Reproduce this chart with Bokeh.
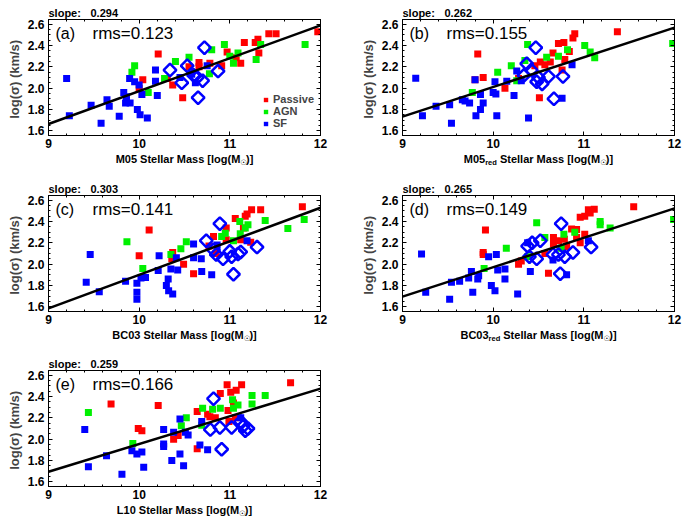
import numpy as np
from bokeh.plotting import figure
from bokeh.models import (Label, Legend, LegendItem, LinearAxis,
                          SingleIntervalTicker, Range1d, PrintfTickFormatter)
from bokeh.layouts import column, row
from bokeh.embed import file_html
from bokeh.resources import INLINE

# ---------------- data ----------------
fit_x = [9.0, 12.0]

# panel (a)  M05
a_red_x = [10.00, 10.04, 10.21, 10.31, 10.37, 10.48, 10.55, 10.66, 10.66, 10.78, 10.91, 10.97, 11.07, 11.12, 11.16, 11.28, 11.31, 11.32, 11.43, 11.51, 11.97]
a_red_y = [2.00, 2.08, 2.32, 2.09, 2.03, 1.91, 2.20, 2.24, 2.20, 2.235, 2.21, 2.34, 2.285, 2.235, 2.43, 2.43, 2.46, 2.33, 2.51, 2.51, 2.53]
a_grn_x = [9.92, 9.95, 10.10, 10.28, 10.40, 10.55, 10.775, 10.80, 10.94, 11.00, 11.04, 11.09, 11.29, 11.34, 11.83]
a_grn_y = [2.15, 2.21, 1.96, 2.09, 2.25, 2.29, 2.135, 2.36, 2.41, 2.30, 2.235, 2.33, 2.27, 2.41, 2.41]
a_blu_x = [9.20, 9.23, 9.47, 9.58, 9.645, 9.67, 9.78, 9.83, 9.85, 9.86, 9.895, 9.90, 9.95, 9.98, 10.00, 10.01, 10.03, 10.09, 10.18, 10.18, 10.20, 10.45, 10.58, 10.62, 10.75]
a_blu_y = [2.09, 1.74, 1.84, 1.67, 1.89, 1.83, 1.735, 1.96, 1.86, 1.92, 2.09, 1.86, 2.06, 1.80, 2.03, 1.75, 1.94, 1.72, 2.17, 2.065, 1.93, 2.10, 2.13, 2.05, 2.21]
a_dia_x = [10.34, 10.47, 10.53, 10.60, 10.64, 10.70, 10.72, 10.65, 10.87]
a_dia_y = [2.17, 2.05, 2.21, 2.12, 2.10, 2.07, 2.38, 1.91, 2.16]
a_fit_y = [1.663, 2.59]
a_slope, a_rms = "0.294", "rms=0.123"

# panel (b)  M05_red
b_red_x = [9.80, 9.83, 9.89, 10.13, 10.28, 10.46, 10.51, 10.52, 10.57, 10.63, 10.66, 10.72, 10.76, 10.78, 10.79, 10.84, 10.88, 10.90, 11.37]
b_red_y = [2.08, 2.32, 2.10, 2.00, 2.09, 2.21, 1.91, 2.245, 2.22, 2.245, 2.33, 2.42, 2.17, 2.43, 2.27, 2.345, 2.47, 2.51, 2.53]
b_grn_x = [9.77, 10.05, 10.20, 10.26, 10.35, 10.38, 10.59, 10.72, 10.82, 11.01, 11.07, 11.12, 11.98]
b_grn_y = [1.96, 2.15, 2.21, 2.07, 2.26, 2.41, 2.29, 2.30, 2.36, 2.40, 2.34, 2.285, 2.42]
b_blu_x = [9.146, 9.22, 9.37, 9.52, 9.54, 9.66, 9.69, 9.74, 9.80, 9.81, 9.86, 9.86, 9.89, 10.00, 10.02, 10.03, 10.04, 10.15, 10.23, 10.26, 10.31, 10.39, 10.76, 10.87]
b_blu_y = [2.094, 1.74, 1.83, 1.845, 1.67, 1.89, 1.88, 1.86, 2.08, 1.74, 1.94, 1.80, 1.86, 1.96, 2.06, 1.945, 1.74, 2.065, 1.93, 2.16, 2.07, 1.72, 1.905, 2.22]
b_dia_x = [10.34, 10.37, 10.42, 10.47, 10.48, 10.50, 10.54, 10.61, 10.67, 10.77]
b_dia_y = [2.12, 2.23, 2.17, 2.38, 2.06, 2.10, 2.04, 2.11, 1.90, 2.11]
b_fit_y = [1.732, 2.569]
b_slope, b_rms = "0.262", "rms=0.155"

# panel (c)  BC03
c_red_x = [10.00, 10.11, 10.36, 10.37, 10.49, 10.60, 10.77, 10.82, 10.85, 10.96, 10.96, 11.06, 11.12, 11.15, 11.17, 11.19, 11.23, 11.24, 11.34, 11.80]
c_red_y = [2.08, 2.32, 2.05, 2.11, 2.00, 1.91, 2.17, 2.26, 2.10, 2.34, 2.23, 2.43, 2.23, 2.34, 2.45, 2.47, 2.205, 2.51, 2.51, 2.54]
c_grn_x = [9.865, 10.04, 10.35, 10.46, 10.52, 10.91, 10.95, 11.04, 11.11, 11.115, 11.17, 11.20, 11.39, 11.64, 11.82]
c_grn_y = [2.21, 1.96, 2.09, 2.145, 2.21, 2.26, 2.29, 2.22, 2.40, 2.285, 2.34, 2.37, 2.41, 2.335, 2.42]
c_blu_x = [9.416, 9.46, 9.56, 9.85, 9.975, 9.975, 9.975, 10.02, 10.07, 10.21, 10.22, 10.30, 10.32, 10.325, 10.35, 10.37, 10.41, 10.425, 10.60, 10.60, 10.685, 10.69, 10.80, 10.86, 11.19]
c_blu_y = [1.83, 2.09, 1.74, 1.84, 1.82, 1.735, 1.67, 1.87, 1.875, 1.94, 2.08, 1.80, 1.86, 1.75, 1.955, 1.72, 2.06, 1.945, 2.19, 2.06, 2.05, 1.93, 1.90, 2.18, 2.22]
c_dia_x = [10.74, 10.82, 10.85, 10.89, 10.925, 11.00, 11.02, 11.04, 11.09, 11.12, 11.30]
c_dia_y = [2.22, 2.135, 2.09, 2.38, 2.05, 2.12, 2.07, 1.905, 2.095, 2.115, 2.16]
c_fit_y = [1.584, 2.53]
c_slope, c_rms = "0.303", "rms=0.141"

# panel (d)  BC03_red
d_red_x = [9.89, 9.89, 9.915, 10.28, 10.31, 10.57, 10.61, 10.665, 10.665, 10.72, 10.785, 10.81, 10.865, 10.92, 10.92, 10.96, 10.96, 11.01, 11.01, 11.05, 11.07, 11.115, 11.55]
d_red_y = [2.09, 2.11, 2.32, 2.00, 2.03, 2.10, 1.915, 2.25, 2.19, 2.22, 2.235, 2.165, 2.33, 2.325, 2.25, 2.20, 2.44, 2.28, 2.45, 2.51, 2.48, 2.515, 2.54]
d_grn_x = [9.90, 10.145, 10.38, 10.48, 10.57, 10.75, 10.78, 10.90, 11.18, 11.18, 11.29, 11.99]
d_grn_y = [1.96, 2.15, 2.07, 2.39, 2.25, 2.15, 2.28, 2.30, 2.40, 2.37, 2.34, 2.42]
d_blu_x = [9.21, 9.256, 9.52, 9.54, 9.63, 9.73, 9.76, 9.775, 9.83, 9.84, 9.95, 9.98, 10.02, 10.035, 10.05, 10.13, 10.13, 10.27, 10.38, 10.41, 10.66, 10.81, 11.05]
d_blu_y = [2.095, 1.735, 1.67, 1.83, 1.84, 1.87, 1.93, 1.735, 1.86, 1.89, 2.07, 1.80, 1.75, 2.09, 1.945, 1.955, 1.86, 1.72, 2.20, 1.93, 2.04, 1.90, 2.22]
d_dia_x = [10.38, 10.40, 10.43, 10.48, 10.52, 10.66, 10.72, 10.74, 10.75, 10.79, 10.88, 11.08]
d_dia_y = [2.17, 2.07, 2.20, 2.05, 2.22, 2.09, 2.09, 1.91, 2.38, 2.07, 2.11, 2.16]
d_fit_y = [1.695, 2.524]
d_slope, d_rms = "0.265", "rms=0.149"

# panel (e)  L10
e_red_x = [9.69, 9.99, 10.03, 10.21, 10.38, 10.43, 10.64, 10.64, 10.755, 10.78, 10.84, 10.895, 10.97, 10.98, 10.99, 11.01, 11.04, 11.06, 11.07, 11.13, 11.67]
e_red_y = [2.33, 2.10, 2.08, 2.315, 2.00, 2.035, 1.91, 2.26, 2.235, 2.21, 2.20, 2.43, 2.51, 2.27, 2.165, 2.44, 2.34, 2.20, 2.46, 2.51, 2.53]
e_grn_x = [9.44, 9.93, 10.465, 10.52, 10.69, 10.70, 10.81, 10.895, 11.03, 11.04, 11.09, 11.245, 11.245, 11.39]
e_grn_y = [2.25, 1.96, 2.125, 2.20, 2.13, 2.29, 2.28, 2.29, 2.37, 2.29, 2.32, 2.41, 2.33, 2.41]
e_blu_x = [9.40, 9.44, 9.64, 9.81, 9.92, 9.975, 10.03, 10.05, 10.27, 10.27, 10.27, 10.36, 10.38, 10.45, 10.45, 10.49, 10.51, 10.54, 10.69, 10.67, 10.755, 11.12]
e_blu_y = [2.09, 1.74, 1.845, 1.67, 1.89, 1.86, 1.88, 1.735, 2.09, 1.955, 1.93, 1.80, 2.065, 1.86, 2.19, 1.75, 2.065, 2.04, 2.165, 1.945, 1.90, 2.20]
e_dia_x = [10.785, 10.82, 10.89, 10.91, 11.02, 11.12, 11.145, 11.17, 11.20]
e_dia_y = [2.09, 2.38, 2.11, 1.905, 2.11, 2.165, 2.12, 2.08, 2.10]
e_fit_y = [1.694, 2.475]
e_slope, e_rms = "0.259", "rms=0.166"

legend_labels = ["Passive", "AGN", "SF"]
x_ticks_interval = 1.0
y_ticks_interval = 0.2
XMIN, XMAX = 9.0, 12.0
YMIN, YMAX = 1.555, 2.645

RED, GREEN, BLUE = "#ff0000", "#00f000", "#0000ff"
FONT = "Liberation Sans"
SYM_FONT = "DejaVu Sans"

FRAME_W, FRAME_H = 272, 116
LEFT_B = 48
BOT_AXIS = 17
XLAB_SIZE, XSUB_SIZE = 11, 7.5

WB = {' ': 278, '(': 333, ')': 333, '[': 333, ']': 333, 'M': 833, 'S': 667,
      'B': 722, 'C': 722, 'L': 611, 't': 333, 'e': 556, 'l': 278, 'a': 556,
      'r': 389, 's': 556, 'o': 611, 'g': 611, 'd': 611, '☉': 760}


def tw(s, size):
    return sum(WB.get(ch, 556) for ch in s) * size / 1000.0


def style_axis(ax, labels=True):
    ax.major_tick_in = 4
    ax.major_tick_out = 0
    ax.minor_tick_in = 2
    ax.minor_tick_out = 0
    ax.axis_line_color = "black"
    ax.major_tick_line_color = "black"
    ax.minor_tick_line_color = "black"
    ax.axis_line_width = 1
    ax.major_label_text_font = FONT
    ax.major_label_text_font_size = "12px"
    ax.major_label_text_font_style = "bold"
    ax.major_label_text_color = "black"
    if not labels:
        ax.major_label_text_color = None
        ax.major_label_text_font_size = "0px"
        ax.major_label_standoff = 0


def text_fig(right, height):
    # same frame width / borders as the panel, so the frames line up
    f = figure(frame_width=FRAME_W, frame_height=height,
               x_range=Range1d(0, FRAME_W), y_range=Range1d(0, height),
               min_border_left=LEFT_B, min_border_right=right, min_border_top=0,
               min_border_bottom=0, title=None,
               output_backend="svg", toolbar_location=None,
               x_axis_location=None, y_axis_location=None)
    f.grid.visible = False
    f.outline_line_color = None
    return f


def panel(tag, xsegs, slope, rms, fit_y, rx, ry, gx, gy, bx, by, dx, dy,
          right, top_h, bot_h, legend=False):
    p = figure(frame_width=FRAME_W, frame_height=FRAME_H, title=None,
               x_range=Range1d(XMIN, XMAX), y_range=Range1d(YMIN, YMAX),
               output_backend="svg", toolbar_location=None,
               x_axis_location=None, y_axis_location=None,
               min_border_left=LEFT_B, min_border_right=right,
               min_border_top=0, min_border_bottom=BOT_AXIS)
    p.grid.visible = False
    p.outline_line_color = "black"
    p.outline_line_width = 1

    for place in ("below", "above", "left", "right"):
        is_x = place in ("below", "above")
        if is_x:
            t = SingleIntervalTicker(interval=x_ticks_interval, num_minor_ticks=5)
            fmt = PrintfTickFormatter(format="%d")
        else:
            t = SingleIntervalTicker(interval=y_ticks_interval, num_minor_ticks=4)
            fmt = PrintfTickFormatter(format="%.1f")
        ax = LinearAxis(ticker=t, formatter=fmt)
        style_axis(ax, place in ("below", "left"))
        if place == "below":
            ax.major_label_standoff = 3
        if place == "left":
            ax.major_label_standoff = 4
            ax.axis_label = "log(σ)  (km/s)"
            ax.axis_label_text_font = FONT
            ax.axis_label_text_font_size = "13px"
            ax.axis_label_text_font_style = "bold"
            ax.axis_label_standoff = 3
        p.add_layout(ax, place)

    r_red = p.scatter(rx, ry, marker="square", size=7, fill_color=RED, line_color=None)
    r_grn = p.scatter(gx, gy, marker="square", size=7, fill_color=GREEN, line_color=None)
    r_blu = p.scatter(bx, by, marker="square", size=7, fill_color=BLUE, line_color=None)
    p.scatter(dx, dy, marker="square", angle=np.pi / 4, size=9, fill_color=None,
              line_color=BLUE, line_width=2.5)
    p.line(fit_x, fit_y, line_color="black", line_width=2.5)

    if legend:
        lg = Legend(items=[LegendItem(label=legend_labels[0], renderers=[r_red]),
                           LegendItem(label=legend_labels[1], renderers=[r_grn]),
                           LegendItem(label=legend_labels[2], renderers=[r_blu])],
                    location="bottom_right", margin=3, padding=3, spacing=-1,
                    label_height=10, glyph_height=11, glyph_width=11,
                    label_standoff=2, background_fill_alpha=0,
                    border_line_alpha=0, label_text_font=FONT,
                    label_text_font_size="11px", label_text_font_style="bold")
        p.add_layout(lg)

    common = dict(text_font=FONT, text_color="black")
    p.add_layout(Label(x=XMIN, y=YMAX, x_offset=7, y_offset=-14, text=tag,
                       text_baseline="middle", text_font_size="16px", **common))
    p.add_layout(Label(x=XMIN, y=YMAX, x_offset=44, y_offset=-14, text=rms,
                       text_baseline="middle", text_font_size="17px", **common))

    # slope text above the frame (frame-relative pixel coordinates)
    top = text_fig(right, top_h)
    top.add_layout(Label(x=0, y=6.8, text="slope:", text_baseline="middle",
                         text_font_size="11px", text_font_style="bold", **common))
    top.add_layout(Label(x=42, y=6.8, text=slope, text_baseline="middle",
                         text_font_size="11px", text_font_style="bold", **common))

    # x-axis title with subscripts
    bot = text_fig(right, bot_h)
    total = sum(tw(s, sz) for s, sz, dyy in xsegs)
    xpos = FRAME_W / 2 - total / 2
    ycen = bot_h - 6.5
    for s, sz, dyy in xsegs:
        lead = len(s) - len(s.lstrip(" "))
        xpos += tw(" " * lead, sz)
        body = s.strip(" ")
        fnt = SYM_FONT if body == "☉" else FONT
        bot.add_layout(Label(x=xpos, y=ycen + dyy, text=body, text_align="left",
                             text_baseline="middle", text_font=fnt,
                             text_font_size=f"{sz}px", text_font_style="bold",
                             text_color="black"))
        xpos += tw(body, sz)
    return column(top, p, bot, spacing=0)


def xsegs(name, sub=None):
    segs = [(name, XLAB_SIZE, 0)]
    if sub:
        segs.append((sub, XSUB_SIZE, -3))
    segs += [(" Stellar Mass [log(M", XLAB_SIZE, 0), ("☉", XSUB_SIZE, -3),
             (")]", XLAB_SIZE, 0)]
    return segs


pa = panel("(a)", xsegs("M05"), a_slope, a_rms, a_fit_y,
           a_red_x, a_red_y, a_grn_x, a_grn_y, a_blu_x, a_blu_y, a_dia_x, a_dia_y,
           34, 19, 31, legend=True)
pb = panel("(b)", xsegs("M05", "red"), b_slope, b_rms, b_fit_y,
           b_red_x, b_red_y, b_grn_x, b_grn_y, b_blu_x, b_blu_y, b_dia_x, b_dia_y,
           13, 19, 31)
pc = panel("(c)", xsegs("BC03"), c_slope, c_rms, c_fit_y,
           c_red_x, c_red_y, c_grn_x, c_grn_y, c_blu_x, c_blu_y, c_dia_x, c_dia_y,
           34, 12, 30)
pd = panel("(d)", xsegs("BC03", "red"), d_slope, d_rms, d_fit_y,
           d_red_x, d_red_y, d_grn_x, d_grn_y, d_blu_x, d_blu_y, d_dia_x, d_dia_y,
           13, 12, 30)
pe = panel("(e)", xsegs("L10"), e_slope, e_rms, e_fit_y,
           e_red_x, e_red_y, e_grn_x, e_grn_y, e_blu_x, e_blu_y, e_dia_x, e_dia_y,
           34, 12, 14)

layout = column(row(pa, pb, spacing=0), row(pc, pd, spacing=0), row(pe, spacing=0),
                spacing=0)
open("out.html", "w").write(file_html(layout, INLINE))
